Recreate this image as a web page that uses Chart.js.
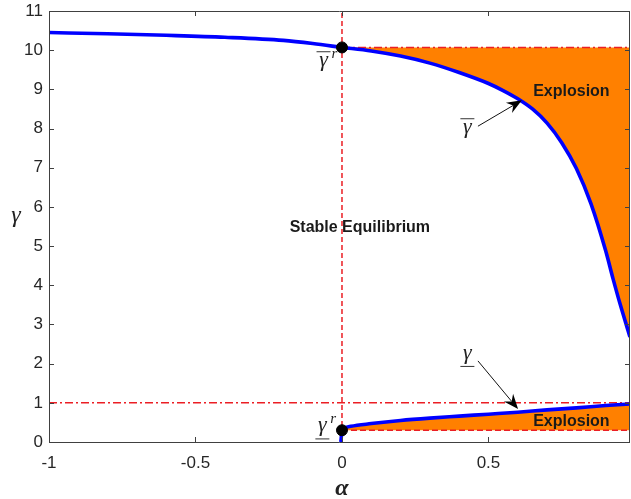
<!DOCTYPE html>
<html>
<head>
<meta charset="utf-8">
<script src="https://cdn.jsdelivr.net/npm/chart.js@4.4.1/dist/chart.umd.min.js"></script>
<style>
  html, body { margin: 0; padding: 0; background: #fff; }
</style>
</head>
<body>
<canvas id="chart" width="631" height="499"></canvas>
<script>
// upper boundary (gamma bar)
const alphaUpper = [-1, -0.8, -0.6, -0.4, -0.2, -0.1, 0, 0.1, 0.2, 0.3, 0.4, 0.5, 0.55, 0.6, 0.65, 0.7, 0.75, 0.8, 0.85, 0.9, 0.925, 0.95, 0.983];
const gammaUpper = [10.45, 10.42, 10.38, 10.33, 10.25, 10.17, 10.07, 9.98, 9.85, 9.67, 9.43, 9.15, 8.97, 8.76, 8.5, 8.14, 7.64, 6.98, 6.08, 4.88, 4.17, 3.5, 2.68];

// lower boundary (gamma underbar)
const alphaLower = [-0.004, -0.002, 0, 0.01, 0.03, 0.1, 0.2, 0.3, 0.4, 0.5, 0.6, 0.7, 0.8, 0.9, 0.983];
const gammaLower = [0, 0.15, 0.3, 0.36, 0.4, 0.47, 0.55, 0.61, 0.66, 0.71, 0.76, 0.82, 0.87, 0.93, 0.97];

// reference levels
const gammaUpperR = 10.07;
const gammaLowerR = 0.3;
const gammaOne = 1;

const xMin = -1, xMax = 0.983;
const yMin = 0, yMax = 11;
const xTicks = [-1, -0.5, 0, 0.5];
const yTicks = [0, 1, 2, 3, 4, 5, 6, 7, 8, 9, 10, 11];

const BLUE = '#0000ff';
const ORANGE = '#ff8000';
const RED = 'rgb(235,30,36)';
const AXIS = '#404040';

const pts = (xs, ys, keep) => xs.map((x, i) => ({ x, y: ys[i] })).filter(p => keep(p.x));

// text annotations in data units
const boldLabels = [
    { text: 'Stable Equilibrium', x: 0.061, y: 5.46 },
    { text: 'Explosion', x: 0.783, y: 8.95 },
    { text: 'Explosion', x: 0.783, y: 0.51 }
];
const gammaLabels = [
    { x: -0.063, y: 9.59, mark: 'over', sup: true },
    { x: -0.067, y: 0.27, mark: 'under', sup: true },
    { x: 0.428, y: 7.88, mark: 'over', sup: false },
    { x: 0.428, y: 2.12, mark: 'under', sup: false }
];
const arrows = [
    { x1: 0.464, y1: 8.06, x2: 0.614, y2: 8.72 },
    { x1: 0.464, y1: 2.07, x2: 0.601, y2: 0.84 }
];

function drawArrow(ctx, x1, y1, x2, y2) {
    const ang = Math.atan2(y2 - y1, x2 - x1);
    const len = 15, half = 6, notch = 10;
    ctx.save();
    ctx.strokeStyle = '#111';
    ctx.fillStyle = '#000';
    ctx.lineWidth = 1;
    ctx.beginPath();
    ctx.moveTo(x1, y1);
    ctx.lineTo(x2 - Math.cos(ang) * notch, y2 - Math.sin(ang) * notch);
    ctx.stroke();
    ctx.translate(x2, y2);
    ctx.rotate(ang);
    ctx.beginPath();
    ctx.moveTo(0, 0);
    ctx.lineTo(-len, -half);
    ctx.lineTo(-notch, 0);
    ctx.lineTo(-len, half);
    ctx.closePath();
    ctx.fill();
    ctx.restore();
}

function drawGamma(ctx, cx, base, mark, sup) {
    ctx.save();
    ctx.fillStyle = '#222';
    ctx.strokeStyle = '#333';
    ctx.lineWidth = 1;
    ctx.font = 'italic 22px "Liberation Serif", "DejaVu Serif", serif';
    ctx.textAlign = 'center';
    ctx.textBaseline = 'alphabetic';
    ctx.fillText('γ', cx, base);
    ctx.beginPath();
    if (mark === 'over') {
        ctx.moveTo(cx - 7, base - 14.5);
        ctx.lineTo(cx + 7, base - 14.5);
    } else {
        ctx.moveTo(cx - 7, base + 7.5);
        ctx.lineTo(cx + 7, base + 7.5);
    }
    ctx.stroke();
    if (sup) {
        ctx.font = 'italic 15px "Liberation Serif", "DejaVu Serif", serif';
        ctx.textAlign = 'left';
        ctx.fillText('r', cx + 8, base - 8);
    }
    ctx.restore();
}

const overlay = {
    id: 'overlay',
    afterDraw(chart) {
        const { ctx, chartArea: a, scales } = chart;
        const sx = scales.x, sy = scales.y;
        ctx.save();
        // axes box
        ctx.strokeStyle = AXIS;
        ctx.lineWidth = 1;
        ctx.beginPath();
        ctx.moveTo(a.left + 0.5, a.top + 0.5);
        ctx.lineTo(a.right - 0.5, a.top + 0.5);
        ctx.lineTo(a.right - 0.5, a.bottom + 0.5);
        ctx.moveTo(a.left + 0.5, a.top + 0.5);
        ctx.lineTo(a.left + 0.5, a.bottom + 0.5);
        ctx.lineTo(a.right, a.bottom + 0.5);
        // inward ticks
        xTicks.forEach(v => {
            const px = Math.round(sx.getPixelForValue(v)) + 0.5;
            ctx.moveTo(px, a.bottom);
            ctx.lineTo(px, a.bottom - 5);
            ctx.moveTo(px, a.top);
            ctx.lineTo(px, a.top + 5);
        });
        yTicks.forEach(v => {
            const py = Math.round(sy.getPixelForValue(v)) + 0.5;
            ctx.moveTo(a.left, py);
            ctx.lineTo(a.left + 5, py);
            ctx.moveTo(a.right, py);
            ctx.lineTo(a.right - 5, py);
        });
        ctx.stroke();

        // bold region labels
        ctx.fillStyle = '#1a1a1a';
        ctx.font = 'bold 16px "Liberation Sans", Arial, sans-serif';
        ctx.textAlign = 'center';
        ctx.textBaseline = 'middle';
        boldLabels.forEach(l => ctx.fillText(l.text, sx.getPixelForValue(l.x), sy.getPixelForValue(l.y)));

        gammaLabels.forEach(g => drawGamma(ctx, sx.getPixelForValue(g.x), sy.getPixelForValue(g.y), g.mark, g.sup));

        arrows.forEach(r => drawArrow(ctx,
            sx.getPixelForValue(r.x1), sy.getPixelForValue(r.y1),
            sx.getPixelForValue(r.x2), sy.getPixelForValue(r.y2)));

        // axis titles
        ctx.fillStyle = '#222';
        ctx.textAlign = 'center';
        ctx.textBaseline = 'alphabetic';
        ctx.font = 'bold italic 24px "Liberation Serif", "DejaVu Serif", serif';
        ctx.fillText('α', sx.getPixelForValue(0), 495);
        ctx.font = 'italic 24px "Liberation Serif", "DejaVu Serif", serif';
        ctx.fillText('γ', 16, 222);
        ctx.restore();
    }
};

const blueLine = (data, fillTo) => ({
    data,
    borderColor: BLUE,
    borderWidth: 3.6,
    pointRadius: 0,
    cubicInterpolationMode: 'monotone',
    fill: fillTo === undefined ? false : { value: fillTo },
    backgroundColor: ORANGE
});

const redLine = (data, dash) => ({
    data,
    borderColor: RED,
    borderWidth: 1.5,
    borderDash: dash,
    pointRadius: 0,
    fill: false
});

const noPad = s => { s.paddingLeft = 0; s.paddingRight = 0; s.paddingTop = 0; s.paddingBottom = 0; };

new Chart(document.getElementById('chart'), {
    type: 'line',
    data: {
        datasets: [
            {
                data: [{ x: 0, y: gammaUpperR }, { x: 0, y: gammaLowerR }],
                showLine: false,
                pointRadius: 5.5,
                pointBackgroundColor: '#000',
                pointBorderColor: '#000'
            },
            blueLine(pts(alphaUpper, gammaUpper, x => x <= 0)),
            blueLine(pts(alphaUpper, gammaUpper, x => x >= 0), gammaUpperR),
            blueLine(pts(alphaLower, gammaLower, x => x <= 0)),
            blueLine(pts(alphaLower, gammaLower, x => x >= 0), gammaLowerR),
            redLine([{ x: 0, y: yMin }, { x: 0, y: yMax }], [5, 3]),
            redLine([{ x: xMin, y: gammaOne }, { x: xMax, y: gammaOne }], [8, 3, 2, 3]),
            redLine([{ x: 0, y: gammaUpperR }, { x: xMax, y: gammaUpperR }], [8, 3, 2, 3]),
            redLine([{ x: 0, y: gammaLowerR }, { x: xMax, y: gammaLowerR }], [6, 3])
        ]
    },
    options: {
        responsive: false,
        animation: false,
        devicePixelRatio: 1,
        layout: { autoPadding: false, padding: { top: 11, right: 1, left: 0, bottom: 0 } },
        plugins: {
            legend: { display: false },
            tooltip: { enabled: false },
            filler: { drawTime: 'beforeDatasetsDraw' }
        },
        scales: {
            x: {
                type: 'linear',
                min: xMin,
                max: xMax,
                grid: { display: false, drawTicks: false },
                border: { display: false },
                ticks: {
                    stepSize: 0.5,
                    includeBounds: false,
                    color: '#262626',
                    padding: 11,
                    font: { family: '"Liberation Sans", Arial, sans-serif', size: 17 },
                    callback: v => String(v)
                },
                afterFit: s => { s.height = 57; noPad(s); }
            },
            y: {
                type: 'linear',
                min: yMin,
                max: yMax,
                grid: { display: false, drawTicks: false },
                border: { display: false },
                ticks: {
                    stepSize: 1,
                    color: '#262626',
                    padding: 6,
                    font: { family: '"Liberation Sans", Arial, sans-serif', size: 17 }
                },
                afterFit: s => { s.width = 49; noPad(s); }
            }
        }
    },
    plugins: [overlay]
});
</script>
</body>
</html>
